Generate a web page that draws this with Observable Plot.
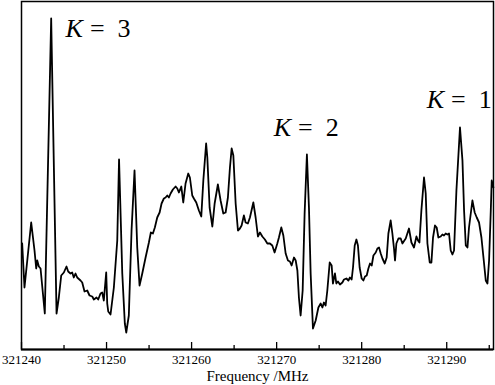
<!DOCTYPE html>
<html><head><meta charset="utf-8">
<script src="https://cdn.jsdelivr.net/npm/d3@7"></script>
<script src="https://cdn.jsdelivr.net/npm/@observablehq/plot@0.6"></script>
<style>html,body{margin:0;padding:0;background:#fff;} svg{display:block;}</style>
</head><body><div id="chart"></div>
<script>
const freq = [321240.08, 321240.35, 321241.14, 321241.53, 321241.73, 321241.85, 321242.04, 321242.24, 321242.74, 321243.49,
 321244.12, 321244.39, 321244.67, 321244.98, 321245.29, 321245.49, 321245.76, 321245.96, 321246.15, 321246.35,
 321246.55, 321246.94, 321247.14, 321247.41, 321247.73, 321248.00, 321248.32, 321248.51, 321248.82, 321249.02,
 321249.29, 321249.49, 321249.68, 321249.96, 321250.08, 321250.20, 321250.47, 321250.86, 321251.26, 321251.47,
 321251.85, 321252.15, 321252.32, 321252.62, 321252.94, 321253.29, 321253.61, 321253.88, 321254.20, 321254.59,
 321254.98, 321255.21, 321255.45, 321255.68, 321255.96, 321256.24, 321256.47, 321256.74, 321256.94, 321257.14,
 321257.33, 321257.53, 321257.80, 321258.12, 321258.32, 321258.51, 321258.79, 321259.02, 321259.29, 321259.61,
 321259.80, 321260.08, 321260.27, 321260.55, 321260.86, 321261.14, 321261.38, 321261.71, 321261.85, 321262.12,
 321262.44, 321262.71, 321263.09, 321263.41, 321263.73, 321264.00, 321264.27, 321264.51, 321264.71, 321264.91,
 321265.18, 321265.45, 321265.68, 321265.88, 321266.15, 321266.35, 321266.62, 321266.86, 321267.26, 321267.53,
 321267.80, 321268.04, 321268.32, 321268.62, 321268.91, 321269.21, 321269.49, 321269.76, 321270.08, 321270.27,
 321270.55, 321270.79, 321271.06, 321271.33, 321271.56, 321271.76, 321272.04, 321272.24, 321272.44, 321272.62,
 321272.82, 321273.06, 321273.29, 321273.56, 321273.80, 321274.00, 321274.27, 321274.59, 321274.91, 321275.18,
 321275.38, 321275.56, 321275.76, 321275.96, 321276.24, 321276.47, 321276.62, 321276.86, 321277.02, 321277.21,
 321277.45, 321277.73, 321277.92, 321278.20, 321278.44, 321278.62, 321278.82, 321278.98, 321279.18, 321279.38,
 321279.56, 321279.76, 321280.00, 321280.20, 321280.39, 321280.59, 321280.79, 321280.98, 321281.18, 321281.38,
 321281.65, 321281.85, 321282.04, 321282.24, 321282.44, 321282.71, 321282.94, 321283.14, 321283.41, 321283.61,
 321283.80, 321283.92, 321284.08, 321284.32, 321284.59, 321284.79, 321285.02, 321285.18, 321285.56, 321285.85,
 321286.15, 321286.44, 321286.62, 321286.79, 321287.02, 321287.33, 321287.53, 321287.73, 321288.00, 321288.20,
 321288.39, 321288.62, 321288.82, 321289.02, 321289.29, 321289.49, 321289.68, 321289.88, 321290.08, 321290.27,
 321290.47, 321290.67, 321290.86, 321291.14, 321291.56, 321291.85, 321292.04, 321292.24, 321292.44, 321292.62,
 321293.02, 321293.29, 321293.53, 321293.80, 321294.08, 321294.32, 321294.59, 321294.79, 321294.98, 321295.18,
 321295.29, 321295.49];
const intensity = [106, 62, 127, 99, 81, 89, 83, 81, 36, 331,
 36, 52, 74, 77, 83, 78, 76, 77, 72, 76,
 72, 69, 67, 58, 59, 54, 53, 50, 52, 50,
 56, 57, 49, 77, 46, 38, 35, 62, 109, 190,
 76, 26, 17, 34, 119, 179, 102, 64, 76, 92,
 107, 117, 116, 122, 132, 137, 146, 151, 152, 154,
 152, 156, 160, 163, 161, 157, 163, 147, 166, 176,
 172, 154, 151, 147, 139, 133, 169, 206, 192, 142,
 123, 146, 165, 149, 136, 137, 152, 182, 201, 194,
 146, 119, 121, 124, 134, 127, 126, 132, 147, 132,
 113, 117, 113, 110, 106, 106, 104, 97, 106, 112,
 122, 114, 96, 89, 88, 84, 92, 89, 79, 52,
 34, 59, 136, 195, 142, 76, 21, 29, 42, 46,
 42, 47, 44, 59, 87, 84, 66, 76, 66, 68,
 65, 67, 70, 71, 69, 72, 70, 82, 104, 110,
 104, 82, 71, 69, 73, 74, 81, 86, 84, 94,
 97, 101, 102, 96, 91, 86, 92, 116, 129, 116,
 101, 89, 106, 111, 111, 106, 109, 111, 121, 107,
 102, 113, 109, 107, 139, 172, 156, 106, 87, 87,
 112, 124, 122, 112, 113, 115, 114, 116, 115, 116,
 99, 95, 99, 159, 222, 189, 139, 104, 102, 122,
 149, 137, 132, 127, 112, 92, 69, 66, 89, 139,
 169, 162];
const majorTicks = [321240, 321250, 321260, 321270, 321280, 321290];
const minorTicks = [321245, 321255, 321265, 321275, 321285, 321295];
const kLabels = ["3", "2", "1"];
const kFreq = [321245.18, 321269.65, 321287.65];
const kLevel = [313, 214, 242];
const xTitle = "Frequency /MHz";

const n = Math.min(freq.length, intensity.length);
const spectrum = freq.slice(0, n).map((f, i) => ({f, v: intensity[i]}));
const labels = kLabels.map((k, i) => ({k, f: kFreq[i], v: kLevel[i]}));

const W = 495, H = 385, mt = 1, mb = 36, ml = 21, mr = 2;
const plotH = H - mt - mb;
const fmt = d3.format("d");

const chart = Plot.plot({
  width: W, height: H,
  marginTop: mt, marginBottom: mb, marginLeft: ml, marginRight: mr,
  style: {fontFamily: "'Liberation Serif', 'Times New Roman', serif", background: "#fff", color: "#000"},
  x: {domain: [321240, 321295.5], axis: null},
  y: {domain: [0, 348], axis: null},
  marks: [
    Plot.line(spectrum, {x: "f", y: "v", stroke: "#000", strokeWidth: 1.8, strokeLinejoin: "round"}),
    Plot.ruleX(majorTicks, {x: d => d, insetTop: plotH - 7, stroke: "#000", strokeWidth: 1.3}),
    Plot.ruleX(minorTicks, {x: d => d, insetTop: plotH - 4, stroke: "#000", strokeWidth: 1.3}),
    Plot.frame({stroke: "#000", strokeWidth: 1.5}),
    Plot.ruleY([0], {stroke: "#000", strokeWidth: 2}),
    Plot.text(majorTicks, {x: d => d, frameAnchor: "bottom", text: d => fmt(d), dy: 14, lineAnchor: "bottom", fontSize: 13, fill: "#000", letterSpacing: "0.4px"}),
    Plot.text([xTitle], {frameAnchor: "bottom", dy: 31, lineAnchor: "bottom", fontSize: 15, fill: "#000", letterSpacing: "0.5px"}),
    Plot.text(labels, {x: "f", y: "v", text: d => `K = ${d.k}`, textAnchor: "start", lineAnchor: "bottom", fontSize: 26, fill: "#000"})
  ]
});

const NS = "http://www.w3.org/2000/svg";
chart.querySelectorAll("text").forEach(t => {
  if (t.getAttribute("letter-spacing") === null && t.parentNode && t.parentNode.getAttribute("letter-spacing")) {}
  const m = /^K = (\d)$/.exec(t.textContent);
  if (!m) return;
  t.textContent = "";
  const a = document.createElementNS(NS, "tspan");
  a.setAttribute("font-style", "italic");
  a.textContent = "K";
  const b = document.createElementNS(NS, "tspan");
  b.setAttribute("dx", "7");
  b.textContent = "=";
  const c = document.createElementNS(NS, "tspan");
  c.setAttribute("dx", "13");
  c.textContent = m[1];
  t.append(a, b, c);
});
document.getElementById("chart").append(chart);
</script>
</body></html>
